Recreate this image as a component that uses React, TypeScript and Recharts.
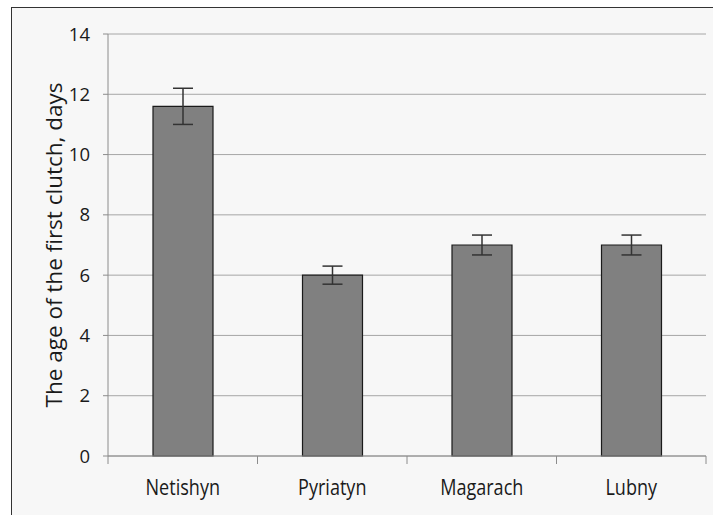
import React from 'react';
import { BarChart, Bar, XAxis, YAxis, CartesianGrid, ErrorBar } from 'recharts';

const categories = ['Netishyn', 'Pyriatyn', 'Magarach', 'Lubny'];
const values = [11.6, 6, 7, 7];
const errors = [0.6, 0.3, 0.33, 0.33];
const yTicks = [0, 2, 4, 6, 8, 10, 12, 14];

const data = categories.map((name, i) => ({ name, value: values[i], err: errors[i] }));

const FONT = '"Open Sans", sans-serif';

const CatTick = (props: any) => {
  const { x, y, payload, index } = props;
  const half = payload && payload.offset != null ? payload.offset : 74.75;
  const top = y - 24;
  return (
    <g>
      {index === 0 && (
        <line x1={x - half} y1={top} x2={x - half} y2={top + 8} stroke="#8c8c8c" strokeWidth={1} />
      )}
      <line x1={x + half} y1={top} x2={x + half} y2={top + 8} stroke="#8c8c8c" strokeWidth={1} />
      <text
        x={0}
        y={0}
        dy="0.71em"
        transform={`translate(${x},${y}) scale(0.86,1)`}
        textAnchor="middle"
        fill="#1a1a1a"
        fontSize={21}
        fontFamily={FONT}
      >
        {payload.value}
      </text>
    </g>
  );
};

const YLabel = (props: any) => {
  const { viewBox } = props;
  const cx = viewBox.x + 53;
  const cy = viewBox.y + viewBox.height / 2;
  return (
    <text
      x={cx}
      y={cy}
      transform={`rotate(-90 ${cx} ${cy})`}
      textAnchor="middle"
      dominantBaseline="central"
      fill="#1a1a1a"
      fontSize={22.5}
      fontFamily={FONT}
    >
      The age of the first clutch, days
    </text>
  );
};

export default function App() {
  return (
    <div style={{ position: 'absolute', left: 0, top: 0, width: 713, height: 515, background: '#fff', overflow: 'hidden' }}>
      <div
        style={{
          position: 'absolute',
          left: 11,
          top: 7,
          width: 720,
          height: 520,
          border: '1.5px solid #333',
          background: '#f7f7f7',
          boxSizing: 'border-box',
        }}
      />
      <div style={{ position: 'absolute', left: 0, top: 0 }}>
        <BarChart width={713} height={515} data={data} margin={{ top: 34, right: 7, bottom: 29, left: 0 }}>
          <CartesianGrid vertical={false} stroke="#a6a6a6" strokeWidth={1} />
          <XAxis
            dataKey="name"
            axisLine={{ stroke: '#8c8c8c' }}
            tickLine={false}
            tickSize={0}
            tickMargin={24}
            height={30}
            interval={0}
            tick={<CatTick />}
          />
          <YAxis
            domain={[0, 14]}
            ticks={yTicks}
            width={108}
            axisLine={{ stroke: '#8c8c8c' }}
            tickLine={{ stroke: '#8c8c8c' }}
            tickSize={5}
            tickMargin={13}
            tick={{ fill: '#1a1a1a', fontSize: 18.5, fontFamily: FONT }}
            label={<YLabel />}
          />
          <Bar dataKey="value" fill="#808080" stroke="#1a1a1a" strokeWidth={1.2} barSize={60} isAnimationActive={false}>
            <ErrorBar dataKey="err" width={10} stroke="#333" strokeWidth={1.5} />
          </Bar>
        </BarChart>
      </div>
    </div>
  );
}
